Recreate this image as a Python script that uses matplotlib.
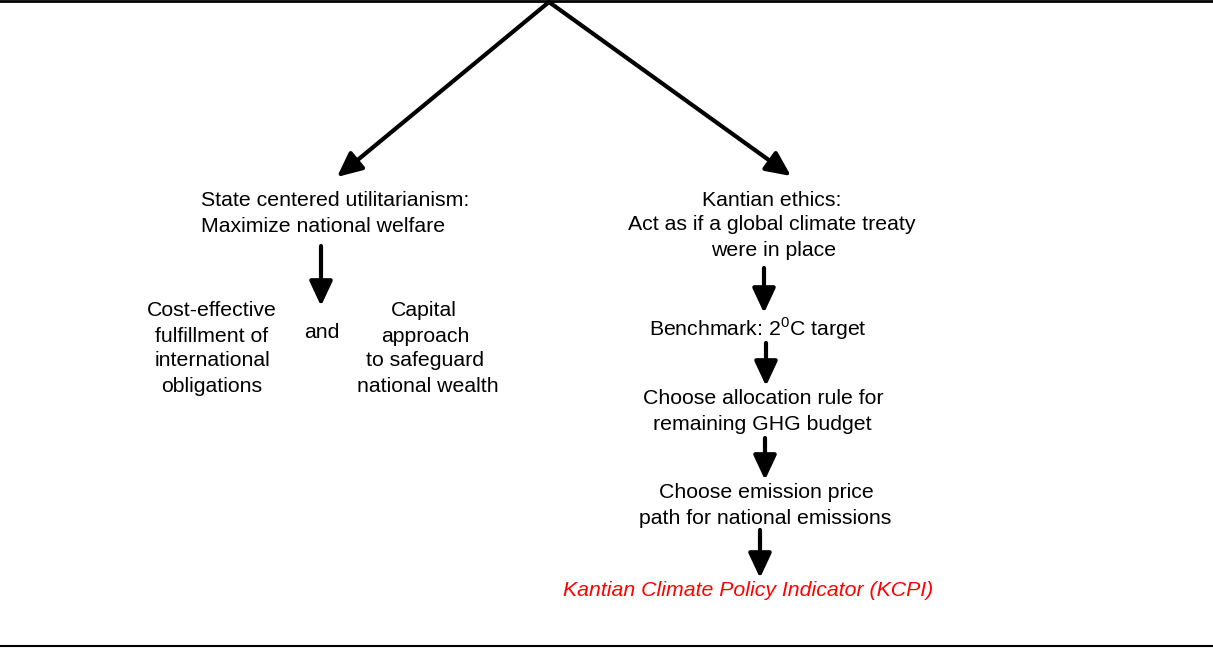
import matplotlib
matplotlib.use("Agg")
import matplotlib.pyplot as plt

plt.rcParams['font.family'] = ['Liberation Sans', 'DejaVu Sans']
plt.rcParams['mathtext.fontset'] = 'custom'
plt.rcParams['mathtext.rm'] = 'Liberation Sans'

# text blocks: (label, x centre, y centre) in pixel space
left_labels = ["State centered utilitarianism:", "Maximize national welfare"]
left_pos = [(335, 200), (323, 226)]

cost_lines = ["Cost-effective", "fulfillment of", "international", "obligations"]
capital_lines = ["Capital", "approach", "to safeguard", "national wealth"]
row_y = [311, 337, 361, 387]

right_labels = ["Kantian ethics:", "Act as if a global climate treaty", "were in place",
                r"Benchmark: 2$^{0}$C target",
                "Choose allocation rule for", "remaining GHG budget",
                "Choose emission price", "path for national emissions"]
right_pos = [(772, 200), (772, 225), (774, 251), (758, 329),
             (763, 398), (762, 425), (766, 493), (765, 519)]

kcpi = "Kantian Climate Policy Indicator (KCPI)"

# arrows: (start, end)
arrows = [((549, 2), (337, 177)), ((549, 2), (791, 176)),
          ((321, 246), (321, 306)), ((764, 268), (764, 313)),
          ((766, 343), (766, 386)), ((765, 438), (765, 480)),
          ((760, 530), (760, 578))]

fig = plt.figure(figsize=(12.13, 6.48), dpi=100)
ax = fig.add_axes([0, 0, 1, 1])
ax.set_xlim(0, 1213)
ax.set_ylim(648, 0)
ax.axis('off')

fs = 15.3
for t, (x, y) in zip(left_labels, left_pos):
    ax.text(x, y, t, ha='center', va='center', fontsize=fs)
for t, y in zip(cost_lines, row_y):
    ax.text(212, y, t, ha='center', va='center', fontsize=fs)
for t, y, x in zip(capital_lines, row_y, [424, 425, 425, 428]):
    ax.text(x, y, t, ha='center', va='center', fontsize=fs)
ax.text(322, 333, "and", ha='center', va='center', fontsize=fs)
for t, (x, y) in zip(right_labels, right_pos):
    ax.text(x, y, t, ha='center', va='center', fontsize=fs)
ax.text(748, 590, kcpi, ha='center', va='center', fontsize=fs,
        color='#ff0000', style='italic')

for s, e in arrows:
    ax.annotate('', xy=e, xytext=s,
                arrowprops=dict(arrowstyle='-|>,head_length=1.5,head_width=0.7',
                                lw=3, color='black', shrinkA=0, shrinkB=0))

ax.plot([0, 1213], [1, 1], color='black', lw=2)
ax.plot([0, 1213], [646, 646], color='black', lw=1.5)

fig.savefig("out.png", dpi=100)
